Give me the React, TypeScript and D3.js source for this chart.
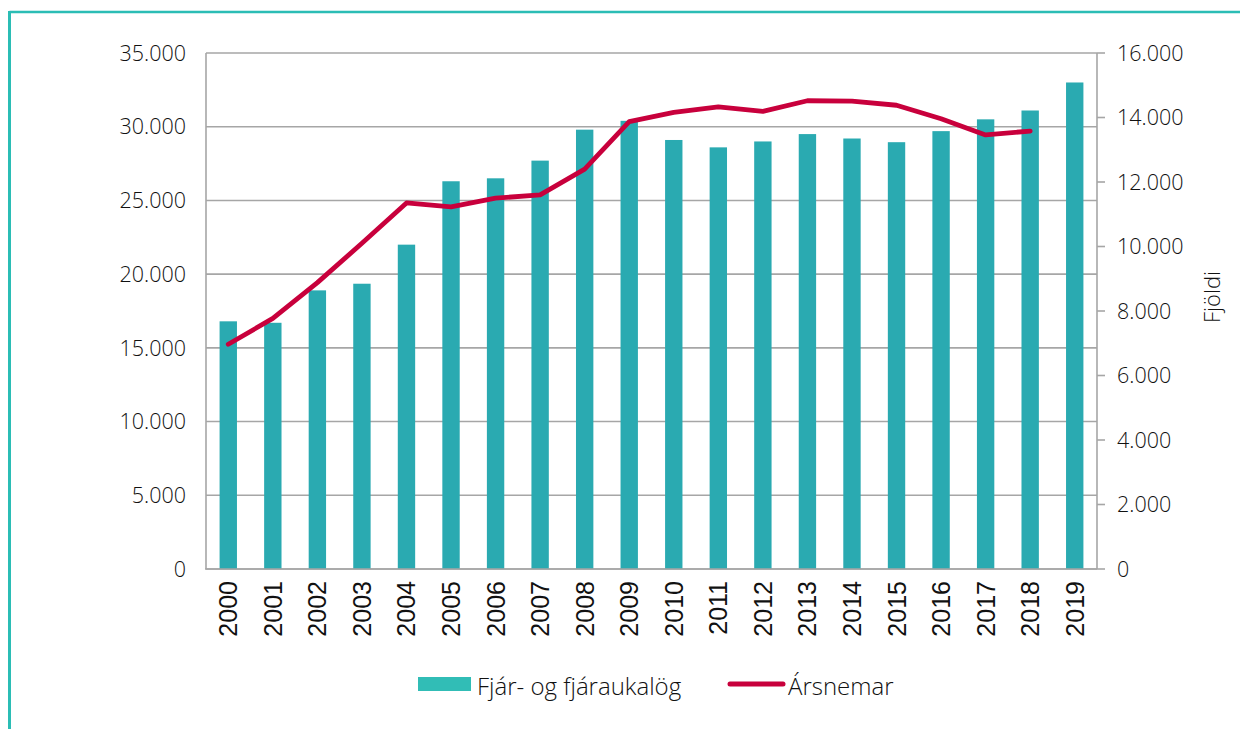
import React from "react";
import * as d3 from "d3";

const years = ["2000","2001","2002","2003","2004","2005","2006","2007","2008","2009","2010","2011","2012","2013","2014","2015","2016","2017","2018","2019"];
const fjarlog = [16800,16700,18900,19350,22000,26300,26500,27700,29800,30400,29100,28600,29000,29500,29200,28950,29700,30500,31100,33000];
const arsnemar: (number | null)[] = [6970,7770,8880,10100,11350,11230,11500,11600,12400,13870,14160,14330,14190,14520,14510,14380,13960,13460,13580,null];
const leftTicks = [0,5000,10000,15000,20000,25000,30000,35000];
const rightTicks = [0,2000,4000,6000,8000,10000,12000,14000,16000];
const seriesNames = ["Fjár- og fjáraukalög", "Ársnemar"];
const rightAxisTitle = "Fjöldi";

const W = 1240, H = 729;
const plot = { left: 206, right: 1097, top: 53, bottom: 569 };
const barColor = "#2AAAB1";
const lineColor = "#C8003C";
const gridColor = "#A6A6A6";
const textColor = "#111";
const font = "'Open Sans', sans-serif";
const fmt = (v: number) => d3.format(",")(v).replace(/,/g, ".");

export default function App() {
  const x = d3.scaleBand<string>().domain(years).range([plot.left, plot.right]).paddingInner(0.61).paddingOuter(0.305);
  const yL = d3.scaleLinear().domain([0, 35000]).range([plot.bottom, plot.top]);
  const yR = d3.scaleLinear().domain([0, 16000]).range([plot.bottom, plot.top]);
  const pts = years.map((yr, i) => ({ yr, v: arsnemar[i] }));
  const line = d3.line<{ yr: string; v: number | null }>()
    .defined(d => d.v != null)
    .x(d => (x(d.yr) as number) + x.bandwidth() / 2)
    .y(d => yR(d.v as number));

  return (
    <svg width={W} height={H} style={{ position: "fixed", left: 0, top: 0, background: "#fff" }}>
      {/* frame */}
      <line x1={9.5} y1={12} x2={W} y2={12} stroke="#2BBDB5" strokeWidth={2.5} />
      <line x1={9.5} y1={11} x2={9.5} y2={H} stroke="#2BBDB5" strokeWidth={3} />

      {/* gridlines */}
      {leftTicks.map(t => (
        <line key={"g" + t} x1={plot.left} x2={plot.right} y1={yL(t)} y2={yL(t)} stroke={gridColor} strokeWidth={1.6} />
      ))}
      {/* left axis */}
      <line x1={plot.left} x2={plot.left} y1={plot.top} y2={plot.bottom} stroke={gridColor} strokeWidth={1.6} />
      {leftTicks.map(t => (
        <text key={"l" + t} x={186} y={yL(t)} dy="0.36em" textAnchor="end" fontFamily={font} fontWeight={300} fontSize={21.5} fill={textColor}>{fmt(t)}</text>
      ))}
      {/* right axis */}
      <line x1={plot.right} x2={plot.right} y1={plot.top} y2={plot.bottom} stroke={gridColor} strokeWidth={1.6} />
      {rightTicks.map(t => (
        <g key={"r" + t}>
          <line x1={plot.right} x2={plot.right + 8} y1={yR(t)} y2={yR(t)} stroke={gridColor} strokeWidth={1.6} />
          <text x={1117} y={yR(t)} dy="0.36em" textAnchor="start" fontFamily={font} fontWeight={300} fontSize={21.5} fill={textColor}>{fmt(t)}</text>
        </g>
      ))}
      <text transform={`translate(1212,297) rotate(-90)`} textAnchor="middle" dy="0.36em" fontFamily={font} fontWeight={300} fontSize={22} fill={textColor}>{rightAxisTitle}</text>

      {/* bars */}
      {years.map((yr, i) => (
        <rect key={"b" + yr} x={x(yr)} y={yL(fjarlog[i])} width={x.bandwidth()} height={yL(0) - yL(fjarlog[i])} fill={barColor} />
      ))}
      {/* bottom axis */}
      <line x1={plot.left - 1} x2={plot.right} y1={plot.bottom} y2={plot.bottom} stroke={gridColor} strokeWidth={1.6} />
      {/* line */}
      <path d={line(pts) || ""} fill="none" stroke={lineColor} strokeWidth={4.8} strokeLinejoin="round" strokeLinecap="round" />

      {/* year labels */}
      {years.map(yr => (
        <text key={"x" + yr} transform={`translate(${(x(yr) as number) + x.bandwidth() / 2},581) rotate(-90)`} textAnchor="end" dy="0.36em" fontFamily="'Liberation Sans', Arial, sans-serif" fontSize={25} fill={textColor}>{yr}</text>
      ))}

      {/* legend */}
      <rect x={418} y={677} width={53} height={14} fill="#31BDB6" />
      <text x={477} y={686} dy="0.36em" fontFamily={font} fontWeight={300} fontSize={24} fill={textColor}>{seriesNames[0]}</text>
      <line x1={730} x2={783} y1={684} y2={684} stroke={lineColor} strokeWidth={5} strokeLinecap="round" />
      <text x={788} y={686} dy="0.36em" fontFamily={font} fontWeight={300} fontSize={24} fill={textColor}>{seriesNames[1]}</text>
    </svg>
  );
}
